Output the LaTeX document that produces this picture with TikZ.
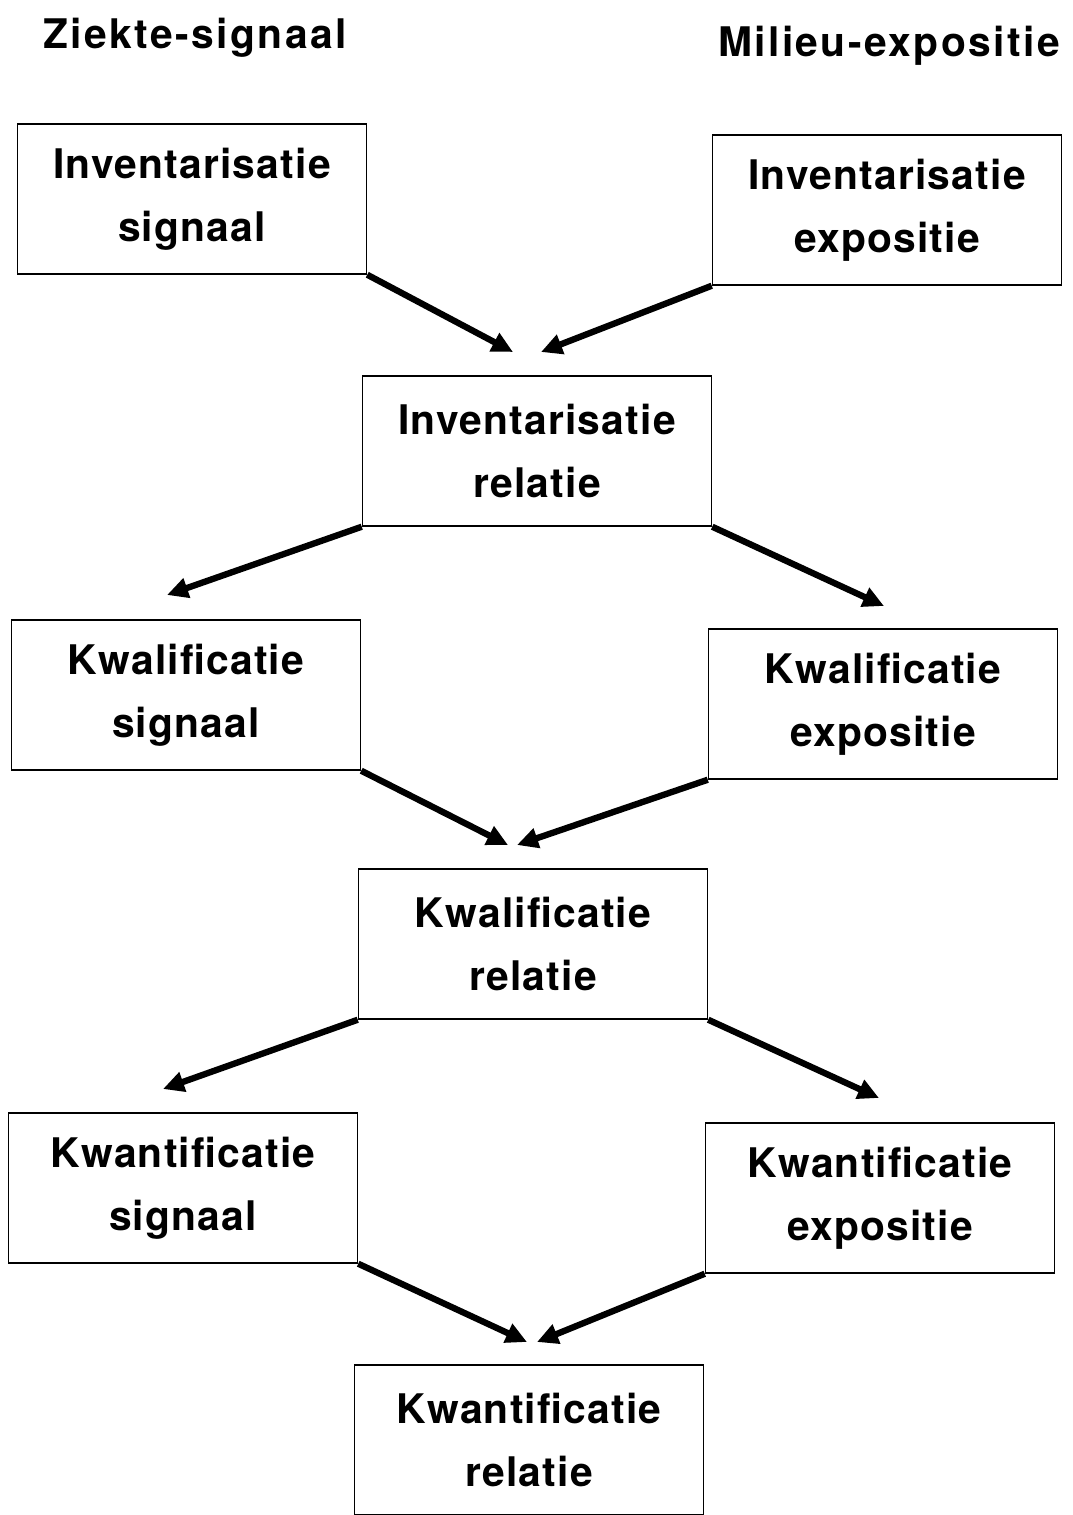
\documentclass[tikz,border=0pt]{standalone}
\usepackage{fontspec}
\setmainfont{TeX Gyre Heros}
\newfontfamily\boxfont[LetterSpace=3]{TeX Gyre Heros}
\newfontfamily\headfont[LetterSpace=6]{TeX Gyre Heros}
\usepackage{tikz}
\usetikzlibrary{arrows.meta, positioning, calc}

\tikzset{
  stage/.style={draw, line width=1pt, minimum width=8.725cm, minimum height=3.75cm,
    align=center, font=\boxfont\bfseries\fontsize{29}{45}\selectfont},
  head/.style={font=\headfont\bfseries\fontsize{29}{45}\selectfont},
  flow/.style={->, line width=4.5pt}
}

\begin{document}
\begin{tikzpicture}[x=0.025cm, y=-0.025cm, >={Triangle[length=15pt,width=14pt]}]
  \useasboundingbox (0,0) rectangle (1073,1515);
  % kolomkoppen
  \node[head] (hsig) at (195,38) {Ziekte-signaal};
  \node[head] (hexp) at (889,46) {Milieu-expositie};

  % inventarisatie
  \node[stage] (sigInv) at (192,199) {Inventarisatie\\signaal};
  \node[stage] (expInv) at (887,210) {Inventarisatie\\expositie};
  \node[stage] (relInv) at (537,451) {Inventarisatie\\relatie};
  % kwalificatie
  \node[stage] (sigKwal) at (186,695) {Kwalificatie\\signaal};
  \node[stage] (expKwal) at (883,704) {Kwalificatie\\expositie};
  \node[stage] (relKwal) at (533,944) {Kwalificatie\\relatie};
  % kwantificatie
  \node[stage] (sigKwan) at (183,1188) {Kwantificatie\\signaal};
  \node[stage] (expKwan) at (880,1198) {Kwantificatie\\expositie};
  \node[stage] (relKwan) at (529,1440) {Kwantificatie\\relatie};

  % pijlpunten
  \coordinate (tInvL) at (513,352);
  \coordinate (tInvR) at (541,352);
  \coordinate (tSigKwal) at (167,595);
  \coordinate (tExpKwal) at (884,606);
  \coordinate (tKwalL) at (508,845);
  \coordinate (tKwalR) at (517,845);
  \coordinate (tSigKwan) at (163,1089);
  \coordinate (tExpKwan) at (879,1098);
  \coordinate (tKwanL) at (527,1342);
  \coordinate (tKwanR) at (537,1342);

  \draw[flow] (sigInv.south east) -- (tInvL);
  \draw[flow] (expInv.south west) -- (tInvR);
  \draw[flow] (relInv.south west) -- (tSigKwal);
  \draw[flow] (relInv.south east) -- (tExpKwal);
  \draw[flow] (sigKwal.south east) -- (tKwalL);
  \draw[flow] (expKwal.south west) -- (tKwalR);
  \draw[flow] (relKwal.south west) -- (tSigKwan);
  \draw[flow] (relKwal.south east) -- (tExpKwan);
  \draw[flow] (sigKwan.south east) -- (tKwanL);
  \draw[flow] (expKwan.south west) -- (tKwanR);
\end{tikzpicture}
\end{document}
